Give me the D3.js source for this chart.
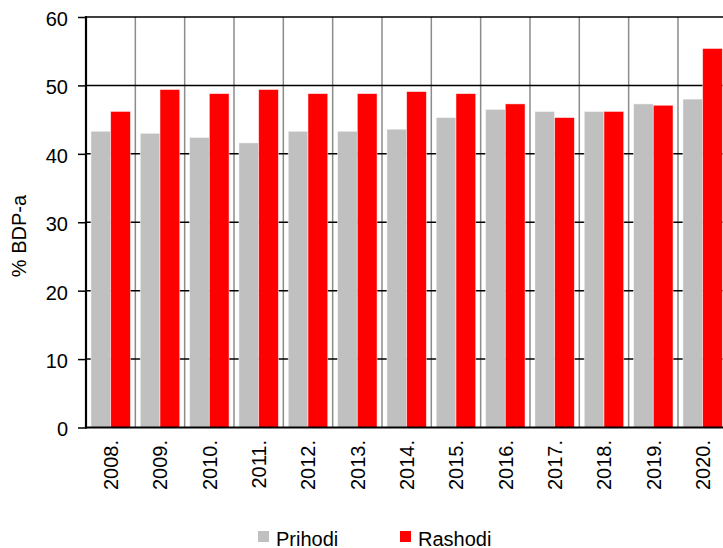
<!DOCTYPE html>
<html>
<head>
<meta charset="utf-8">
<script src="https://cdn.jsdelivr.net/npm/d3@7"></script>
<style>
  html, body { margin: 0; padding: 0; background: #fff; }
  svg text { font-family: "Liberation Sans", Arial, sans-serif; fill: #000; }
</style>
</head>
<body>
<div id="chart"></div>
<script>
(function () {
  // Data
  var years = ["2008.", "2009.", "2010.", "2011.", "2012.", "2013.", "2014.",
               "2015.", "2016.", "2017.", "2018.", "2019.", "2020."];
  var prihodi = [43.3, 43.0, 42.4, 41.6, 43.3, 43.3, 43.6, 45.3, 46.5, 46.2, 46.2, 47.3, 48.0];
  var rashodi = [46.2, 49.4, 48.8, 49.4, 48.8, 48.8, 49.1, 48.8, 47.3, 45.3, 46.2, 47.1, 55.4];
  var seriesNames = ["Prihodi", "Rashodi"];
  var yTicks = [0, 10, 20, 30, 40, 50, 60];

  var colors = { Prihodi: "#c0c0c0", Rashodi: "#ff0000" };

  var W = 723, H = 548;
  // plot area runs a little past the right edge of the window, as in the original
  var plot = { left: 86, top: 17, right: 727.3, bottom: 427.5 };

  var svg = d3.select("#chart").append("svg")
    .attr("width", W)
    .attr("height", H);

  var x0 = d3.scaleBand().domain(years).range([plot.left, plot.right]).padding(0);
  var x1 = d3.scaleBand().domain(seriesNames).range([0, x0.bandwidth()])
    .paddingInner(0).paddingOuter(0.25);
  var y = d3.scaleLinear().domain([0, 60]).range([plot.bottom, plot.top]);

  var rows = years.map(function (yr, i) {
    return { year: yr, Prihodi: prihodi[i], Rashodi: rashodi[i] };
  });

  // vertical grid (grey, at category boundaries)
  svg.append("g")
    .selectAll("line")
    .data(years.slice(1))
    .enter().append("line")
    .attr("x1", function (d) { return x0(d); })
    .attr("x2", function (d) { return x0(d); })
    .attr("y1", plot.top)
    .attr("y2", plot.bottom)
    .attr("stroke", "#8c8c8c")
    .attr("stroke-width", 1.5);

  // horizontal grid (black)
  svg.append("g")
    .selectAll("line")
    .data(yTicks.slice(1))
    .enter().append("line")
    .attr("x1", plot.left)
    .attr("x2", plot.right)
    .attr("y1", function (d) { return y(d); })
    .attr("y2", function (d) { return y(d); })
    .attr("stroke", "#000")
    .attr("stroke-width", 1.5);

  // bars
  var groups = svg.append("g")
    .selectAll("g")
    .data(rows)
    .enter().append("g")
    .attr("transform", function (d) { return "translate(" + x0(d.year) + ",0)"; });

  groups.selectAll("rect")
    .data(function (d) {
      return seriesNames.map(function (k) { return { key: k, value: d[k] }; });
    })
    .enter().append("rect")
    .attr("x", function (d) { return x1(d.key); })
    .attr("width", x1.bandwidth())
    .attr("y", function (d) { return y(d.value); })
    .attr("height", function (d) { return y(0) - y(d.value); })
    .attr("fill", function (d) { return colors[d.key]; })
    .attr("stroke", "#fff")
    .attr("stroke-opacity", 0.6)
    .attr("stroke-width", 0.8);

  // y axis
  var yAxis = svg.append("g")
    .attr("transform", "translate(" + plot.left + ",0)")
    .call(d3.axisLeft(y).tickValues(yTicks).tickSize(8).tickPadding(10));
  yAxis.select(".domain").remove();
  yAxis.selectAll(".tick line").attr("stroke", "#000").attr("stroke-width", 1.5);
  yAxis.selectAll(".tick text")
    .style("font-size", "20px")
    .attr("dy", "0.42em");

  // axis lines
  svg.append("line")
    .attr("x1", plot.left).attr("x2", plot.left)
    .attr("y1", plot.top - 1).attr("y2", plot.bottom + 1)
    .attr("stroke", "#000").attr("stroke-width", 2.2);
  svg.append("line")
    .attr("x1", plot.left).attr("x2", plot.right)
    .attr("y1", plot.bottom).attr("y2", plot.bottom)
    .attr("stroke", "#000").attr("stroke-width", 2.2);

  // category labels, rotated
  svg.append("g")
    .selectAll("text")
    .data(years)
    .enter().append("text")
    .attr("transform", function (d) {
      return "translate(" + (x0(d) + x0.bandwidth() / 2) + "," + 440 + ") rotate(-90)";
    })
    .attr("text-anchor", "end")
    .attr("dy", "0.36em")
    .style("font-size", "20px")
    .text(function (d) { return d; });

  // y title
  svg.append("text")
    .attr("transform", "translate(19,236) rotate(-90)")
    .attr("text-anchor", "middle")
    .attr("dy", "0.36em")
    .style("font-size", "20px")
    .text("% BDP-a");

  // legend
  var legendX = [258, 400];
  var legend = svg.append("g")
    .selectAll("g")
    .data(seriesNames)
    .enter().append("g")
    .attr("transform", function (d, i) { return "translate(" + legendX[i] + ",531)"; });
  legend.append("rect")
    .attr("width", 11).attr("height", 11)
    .attr("fill", function (d) { return colors[d]; });
  legend.append("text")
    .attr("x", 18)
    .attr("y", 14.5)
    .style("font-size", "20px")
    .text(function (d) { return d; });
})();
</script>
</body>
</html>
